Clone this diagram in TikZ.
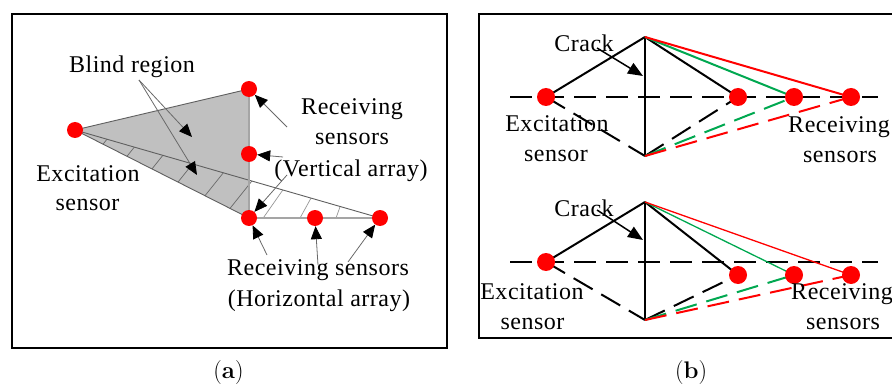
\documentclass[tikz,border=0pt]{standalone}
\usepackage{fontspec}
\usetikzlibrary{arrows.meta}
\newfontfamily\diagfont{Liberation Serif}[LetterSpace=2.2]
\newcommand\diaglabel{\diagfont\fontsize{24}{28}\selectfont}
\newcommand\capfont{\fontsize{24}{28}\selectfont}

\definecolor{fillgray}{RGB}{192,192,192}
\definecolor{edgegray}{RGB}{95,95,95}
\definecolor{lightedge}{RGB}{165,165,165}
\definecolor{hatchdark}{RGB}{105,105,105}
\definecolor{hatchlight}{RGB}{150,150,150}
\definecolor{pointergray}{RGB}{105,105,105}
\definecolor{wavegreen}{RGB}{0,168,80}
\definecolor{dotred}{RGB}{255,0,0}

\begin{document}
\begin{tikzpicture}[x=1pt,y=-1pt,
  frame/.style={draw=black, line width=2pt},
  txt/.style={font=\diaglabel, anchor=base, inner sep=0pt},
  captxt/.style={font=\capfont, anchor=base, inner sep=0pt},
  sensorA/.style={circle, fill=dotred, minimum size=16pt, inner sep=0pt},
  sensorB/.style={circle, fill=dotred, minimum size=18pt, inner sep=0pt},
  pointer/.style={draw=pointergray, line width=0.8pt,
    -{Triangle[length=13pt,width=11pt,color=black]}},
  crackptr/.style={draw=black, line width=1.5pt,
    -{Triangle[length=15pt,width=12pt]}},
  edgeline/.style={draw=edgegray, line width=0.9pt},
  softedge/.style={draw=lightedge, line width=1.8pt},
  hatchA/.style={draw=hatchdark, line width=0.7pt},
  hatchB/.style={draw=hatchlight, line width=0.7pt},
  axisline/.style={draw=black, line width=2pt, dash pattern=on 22pt off 10pt},
  raysolid/.style={line width=2pt},
  raydash/.style={line width=2pt, dash pattern=on 22pt off 10pt},
]
\useasboundingbox (0,0) rectangle (892,385);

% ---------------- (a) sensor layout and blind region ----------------
\draw[frame] (12,14) rectangle (447,348);

\coordinate (pE)  at (75,130);
\coordinate (pV1) at (249,89);
\coordinate (pV2) at (249,154);
\coordinate (pV3) at (249,218);
\coordinate (pH2) at (315,218);
\coordinate (pH3) at (380,218);

% shaded blind region
\fill[fillgray] (pE) -- (pV1) -- (pV3) -- cycle;

% hatching of the strip between the two rays
\begin{scope}
  \clip (pE) -- (pV3) -- (pH3) -- cycle;
  \foreach \x/\y in {103/144.2, 127/156.3, 152/168.9, 178/182.1, 205/195.7, 230/208.4}
    \draw[hatchA] (\x-4,\y+5) -- (\x+30,\y-37.5);
  \draw[hatchB] (259,224) -- (287,184);
  \draw[hatchB] (297,223.5) -- (313,194.5);
  \draw[hatchB] (335,221) -- (341,204);
\end{scope}

% outline of the region and the rays
\draw[edgeline] (pE) -- (pV1);
\draw[edgeline] (pE) -- (pV3);
\draw[edgeline] (pE) -- (pH3);
\draw[softedge] (pV1) -- (pV3);
\draw[softedge] (pV3) -- (pH3);

% sensors
\node[sensorA] (aE)  at (pE)  {};
\node[sensorA] (aV1) at (pV1) {};
\node[sensorA] (aV2) at (pV2) {};
\node[sensorA] (aV3) at (pV3) {};
\node[sensorA] (aH2) at (pH2) {};
\node[sensorA] (aH3) at (pH3) {};

% pointers
\coordinate (blindFrom) at (139,80);
\coordinate (blindTo1)  at (192,137);
\coordinate (blindTo2)  at (197,175);
\draw[pointer] (blindFrom) -- (blindTo1);
\draw[pointer] (blindFrom) -- (blindTo2);

\coordinate (vFrom1) at (287,127);
\coordinate (vFrom2) at (283,157);
\coordinate (vFrom3) at (287,175);
\draw[pointer] (vFrom1) -- (aV1);
\draw[pointer] (vFrom2) -- (aV2);
\draw[pointer] (vFrom3) -- (aV3);

\coordinate (hFrom1) at (267,255);
\coordinate (hFrom2) at (318,265);
\coordinate (hFrom3) at (348,262);
\draw[pointer] (hFrom1) -- (aV3);
\draw[pointer] (hFrom2) -- (aH2);
\draw[pointer] (hFrom3) -- (aH3);

% labels
\node[txt] (tBlind) at (132,73) {Blind region};
\node[txt] (tRv1) at (352,115) {Receiving};
\node[txt] (tRv2) at (352,145) {sensors};
\node[txt] (tRv3) at (351,176) {(Vertical array)};
\node[txt] (tEx1) at (88,182) {Excitation};
\node[txt] (tEx2) at (87.5,211) {sensor};
\node[txt] (tRh1) at (318,275) {Receiving sensors};
\node[txt] (tRh2) at (319,306) {(Horizontal array)};

\node[captxt] (capA) at (228.5,378) {(\textbf{a})};

% ---------------- (b) crack scattering paths ----------------
\draw[frame] (479,14) rectangle (910,338);

% upper case: receivers on the sensor line
\coordinate (uL)  at (510,97);
\coordinate (uRt) at (878,97);
\coordinate (uE)  at (546,97);
\coordinate (uT)  at (645,37);
\coordinate (uB)  at (645,156);
\coordinate (uR1) at (738,97);
\coordinate (uR2) at (794,97);
\coordinate (uR3) at (851,97);

\draw[axisline] (uL) -- (uRt);
\draw[raysolid, black] (uE) -- (uT);
\draw[raydash, black] (uE) -- (uB);
\draw[black, line width=2.2pt] (uT) -- (uB);
\draw[raysolid, black] (uT) -- (uR1);
\draw[raysolid, wavegreen] (uT) -- (uR2);
\draw[raysolid, dotred] (uT) -- (uR3);
\draw[raydash, black] (uB) -- (uR1);
\draw[raydash, wavegreen] (uB) -- (uR2);
\draw[raydash, dotred] (uB) -- (uR3);

\node[sensorB] (uSE)  at (uE)  {};
\node[sensorB] (uSR1) at (uR1) {};
\node[sensorB] (uSR2) at (uR2) {};
\node[sensorB] (uSR3) at (uR3) {};

\coordinate (uCrFrom) at (597,48);
\coordinate (uCrTo)   at (643,76);
\draw[crackptr] (uCrFrom) -- (uCrTo);

\node[txt] (uCrack) at (584,52)  {Crack};
\node[txt] (uEx1)   at (557,132) {Excitation};
\node[txt] (uEx2)   at (556,162) {sensor};
\node[txt] (uRc1)   at (839,133) {Receiving};
\node[txt] (uRc2)   at (840,163) {sensors};

% lower case: receivers below the sensor line
\coordinate (lL)  at (510,262);
\coordinate (lRt) at (878,262);
\coordinate (lE)  at (546,262);
\coordinate (lT)  at (645,202);
\coordinate (lB)  at (645,320);
\coordinate (lR1) at (738,275);
\coordinate (lR2) at (794,275);
\coordinate (lR3) at (851,275);

\draw[axisline] (lL) -- (lRt);
\draw[raysolid, black] (lE) -- (lT);
\draw[raydash, black] (lE) -- (lB);
\draw[black, line width=2.2pt] (lT) -- (lB);
\draw[raysolid, black] (lT) -- (lR1);
\draw[wavegreen, line width=1.3pt] (lT) -- (lR2);
\draw[dotred, line width=1.3pt] (lT) -- (lR3);
\draw[raydash, black] (lB) -- (lR1);
\draw[raydash, wavegreen] (lB) -- (lR2);
\draw[raydash, dotred] (lB) -- (lR3);

\node[sensorB] (lSE)  at (lE)  {};
\node[sensorB] (lSR1) at (lR1) {};
\node[sensorB] (lSR2) at (lR2) {};
\node[sensorB] (lSR3) at (lR3) {};

\coordinate (lCrFrom) at (597,210);
\coordinate (lCrTo)   at (643,240);
\draw[crackptr] (lCrFrom) -- (lCrTo);

\node[txt] (lCrack) at (584,216) {Crack};
\node[txt] (lEx1)   at (532,299) {Excitation};
\node[txt] (lEx2)   at (532.5,329) {sensor};
\node[txt] (lRc1)   at (842,299) {Receiving};
\node[txt] (lRc2)   at (843,329) {sensors};

\node[captxt] (capB) at (691,378) {(\textbf{b})};
\end{tikzpicture}
\end{document}
